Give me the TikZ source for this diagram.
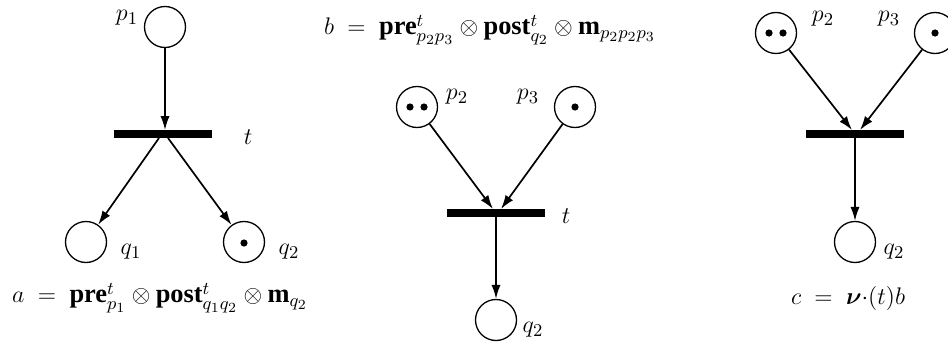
\documentclass[tikz,border=0pt]{standalone}
\usepackage{amsmath,amssymb,bm}
\usepackage{fontspec}
\newfontfamily\timesf{Liberation Serif}
\newcommand{\tbf}[1]{\text{\timesf\bfseries #1}}
\usetikzlibrary{arrows.meta,calc}
\begin{document}
\begin{tikzpicture}[x=0.5pt,y=-0.5pt,
  font=\fontsize{12.5}{15}\selectfont,
  formula/.style={inner sep=0pt,font=\fontsize{13.2}{16}\selectfont},
  place/.style={circle,draw,line width=0.65pt,minimum size=20.5pt,inner sep=0pt},
  trans/.style={rectangle,fill=black,minimum width=49pt,minimum height=3.6pt,inner sep=0pt},
  arc/.style={line width=0.85pt,-{Latex[length=7pt,width=4.6pt]}},
  tok/.style={circle,fill=black,inner sep=0pt,minimum size=3.6pt},
  lbl/.style={inner sep=0pt}]
\useasboundingbox (0,0) rectangle (948,348);
\clip (0,0) rectangle (948,348);
% ---- left panel ----
\node[place] (p1) at (165,27) {};
\node[lbl] (lp1) at (127,18) {$p_1$};
\node[trans] (t1) at (163,134) {};
\node[lbl] (lt1) at (248,137) {$t$};
\node[place] (q1) at (86,242) {};
\node[place] (q2) at (244,242) {};
\node[tok] (k1) at (244,243) {};
\node[lbl] (lq1) at (131,252) {$q_1$};
\node[lbl] (lq2) at (289,252) {$q_2$};
\draw[arc] (p1.south) -- (p1.south |- t1.north);
\draw[arc] ($(t1.south)+(-4,0)$) -- (q1);
\draw[arc] ($(t1.south)+(5,0)$) -- (q2);
\node[formula] (fa) at (160,298) {$a \;=\; \tbf{pre}^{t}_{p_1}\otimes\tbf{post}^{t}_{q_1q_2}\otimes\tbf{m}_{q_2}$};
% ---- middle panel ----
\node[formula] (fb) at (490,30) {$b \;=\; \tbf{pre}^{t}_{p_2p_3}\otimes\tbf{post}^{t}_{q_2}\otimes\tbf{m}_{p_2p_2p_3}$};
\node[place] (mp2) at (417,107) {};
\node[tok] (mk1) at (410,107) {};
\node[tok] (mk2) at (424,107) {};
\node[place] (mp3) at (575,107) {};
\node[tok] (mk3) at (575,107) {};
\node[lbl] (lmp2) at (457,97) {$p_2$};
\node[lbl] (lmp3) at (528,97) {$p_3$};
\node[trans] (t2) at (496,213) {};
\node[lbl] (lt2) at (566,216) {$t$};
\node[place] (mq2) at (496,320) {};
\node[lbl] (lmq2) at (533,330) {$q_2$};
\draw[arc] (mp2) -- ($(t2.north)+(-3,0)$);
\draw[arc] (mp3) -- ($(t2.north)+(5,0)$);
\draw[arc] (t2.south) -- (mq2);
% ---- right panel ----
\node[place] (rp2) at (776,33) {};
\node[tok] (rk1) at (769,33) {};
\node[tok] (rk2) at (783,33) {};
\node[place] (rp3) at (935,33) {};
\node[tok] (rk3) at (935,33) {};
\node[lbl] (lrp2) at (823,19) {$p_2$};
\node[lbl] (lrp3) at (889,19) {$p_3$};
\node[trans] (t3) at (855,134) {};
\node[place] (rq2) at (855,242) {};
\node[lbl] (lrq2) at (894,252) {$q_2$};
\draw[arc] (rp2) -- ($(t3.north)+(-3,0)$);
\draw[arc] (rp3) -- ($(t3.north)+(5,0)$);
\draw[arc] (t3.south) -- (rq2);
\node[formula] (fc) at (848,298) {$c \;=\; \bm{\nu}{\cdot}\mathrm{(}t\mathrm{)}b$};
\end{tikzpicture}
\end{document}
